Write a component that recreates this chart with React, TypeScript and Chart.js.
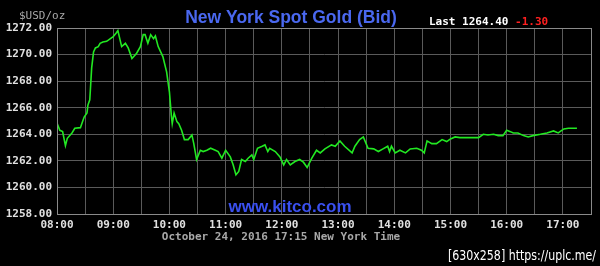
import React, { useEffect, useRef } from "react";
import { Chart, registerables } from "chart.js";

Chart.register(...registerables);

const times: string[] = [
  "08:00","08:03","08:06","08:09","08:11","08:16","08:19","08:25","08:26","08:29",
  "08:32","08:33","08:35","08:37","08:39","08:41","08:44","08:46","08:49","08:53",
  "08:57","09:00","09:03","09:05","09:09","09:13","09:16","09:20","09:25","09:29",
  "09:32","09:34","09:37","09:40","09:43","09:45","09:48","09:53","09:57","10:00",
  "10:02","10:03","10:05","10:08","10:10","10:13","10:16","10:20","10:24","10:26",
  "10:29","10:33","10:36","10:40","10:44","10:49","10:52","10:56","11:00","11:05",
  "11:08","11:11","11:14","11:17","11:21","11:24","11:28","11:30","11:34","11:39",
  "11:42","11:45","11:47","11:53","11:58","12:02","12:05","12:09","12:14","12:19",
  "12:23","12:27","12:32","12:37","12:41","12:46","12:53","12:57","13:02","13:07",
  "13:15","13:18","13:23","13:27","13:32","13:38","13:43","13:48","13:53","13:55",
  "13:57","14:01","14:06","14:12","14:17","14:24","14:29","14:32","14:35","14:40",
  "14:45","14:51","14:56","15:00","15:05","15:10","15:17","15:24","15:30","15:35",
  "15:40","15:46","15:51","15:56","16:00","16:04","16:07","16:12","16:18","16:23",
  "16:28","16:36","16:43","16:50","16:55","17:01","17:06","17:15"
];

const prices: number[] = [
  1264.85,1264.3,1264.2,1263.15,1263.7,1264.1,1264.45,1264.5,1264.7,1265.3,
  1265.6,1266.2,1266.6,1269.0,1270.2,1270.5,1270.6,1270.85,1270.95,1271.0,
  1271.2,1271.35,1271.6,1271.8,1270.6,1270.85,1270.5,1269.7,1270.1,1270.6,
  1271.5,1271.5,1270.85,1271.5,1271.2,1271.4,1270.6,1269.85,1268.7,1267.2,
  1265.45,1264.8,1265.6,1264.95,1264.8,1264.3,1263.6,1263.6,1263.95,1263.3,
  1262.1,1262.8,1262.7,1262.8,1262.95,1262.8,1262.7,1262.2,1262.8,1262.3,
  1261.7,1260.95,1261.2,1262.1,1261.95,1262.2,1262.45,1262.1,1262.95,1263.1,
  1263.2,1262.7,1262.95,1262.7,1262.3,1261.7,1262.1,1261.7,1261.95,1262.1,
  1261.9,1261.5,1262.2,1262.8,1262.6,1262.9,1263.2,1263.1,1263.5,1263.1,
  1262.6,1263.1,1263.6,1263.8,1262.95,1262.9,1262.7,1262.9,1263.1,1262.7,
  1263.1,1262.6,1262.8,1262.6,1262.9,1262.95,1262.8,1262.6,1263.5,1263.3,
  1263.3,1263.6,1263.45,1263.65,1263.8,1263.75,1263.75,1263.75,1263.75,1264.0,
  1263.95,1264.0,1263.9,1263.9,1264.3,1264.2,1264.1,1264.1,1263.9,1263.8,
  1263.9,1264.0,1264.1,1264.25,1264.1,1264.4,1264.45,1264.45
];

const xTickLabels: string[] = [
  "08:00","09:00","10:00","11:00","12:00","13:00","14:00","15:00","16:00","17:00"
];

const yMin = 1258;
const yMax = 1272;
const yStep = 2;
const xStartMin = 8 * 60;
const xEndMin = 17 * 60 + 30;

const titleText = "New York Spot Gold (Bid)";
const unitText = "$USD/oz";
const lastText = "Last 1264.40";
const changeText = "-1.30";
const dateText = "October 24, 2016 17:15 New York Time";
const siteText = "www.kitco.com";
const stampText = "[630x258] https://uplc.me/";

const toMin = (s: string) => {
  const [h, m] = s.split(":").map(Number);
  return h * 60 + m - xStartMin;
};

const textPlugin = {
  id: "kitcoText",
  afterDraw(chart: any) {
    const ctx = chart.ctx;
    const area = chart.chartArea;
    ctx.save();
    ctx.textBaseline = "alphabetic";
    // unit
    ctx.font = "11px 'DejaVu Sans Mono'";
    ctx.fillStyle = "#a8a8a8";
    ctx.textAlign = "left";
    ctx.fillText(unitText, 19, 19);
    // title
    ctx.font = "bold 17.5px 'Liberation Sans'";
    ctx.fillStyle = "#4a68f0";
    ctx.textAlign = "center";
    ctx.fillText(titleText, 291, 23);
    // last
    ctx.font = "bold 11px 'DejaVu Sans Mono'";
    ctx.textAlign = "left";
    ctx.fillStyle = "#ffffff";
    ctx.fillText(lastText, 429, 25);
    const w = ctx.measureText(lastText + " ").width;
    ctx.fillStyle = "#ff2020";
    ctx.fillText(changeText, 429 + w, 25);
    // site
    ctx.font = "bold 17px 'Liberation Sans'";
    ctx.fillStyle = "#3a50f0";
    ctx.textAlign = "center";
    ctx.fillText(siteText, 290, 212);
    // date
    ctx.font = "bold 11px 'DejaVu Sans Mono'";
    ctx.fillStyle = "#a8a8a8";
    ctx.textAlign = "center";
    ctx.fillText(dateText, 281, 240);
    // stamp
    ctx.font = "14px 'DejaVu Sans'";
    ctx.fillStyle = "#ffffff";
    ctx.textAlign = "right";
    ctx.fillText(stampText, 596, 260, 148);
    ctx.restore();
  },
};

export default function App() {
  const ref = useRef<HTMLCanvasElement | null>(null);
  useEffect(() => {
    if (!ref.current) return;
    const data = times.map((t, i) => ({ x: toMin(t), y: prices[i] }));
    const chart = new Chart(ref.current, {
      type: "line",
      data: {
        datasets: [
          {
            data,
            borderColor: "#22e822",
            borderWidth: 1.6,
            pointRadius: 0,
            tension: 0,
            fill: false,
          },
        ],
      },
      options: {
        animation: false,
        responsive: false,
        maintainAspectRatio: false,
        layout: { padding: { left: 0, right: 9, top: 28, bottom: 32 } },
        plugins: { legend: { display: false }, tooltip: { enabled: false } },
        scales: {
          x: {
            type: "linear",
            min: 0,
            max: xEndMin - xStartMin,
            afterFit: (s: any) => {
              s.height = 20;
            },
            afterBuildTicks: (s: any) => {
              const ticks = [];
              for (let v = 0; v <= xEndMin - xStartMin; v += 30) ticks.push({ value: v });
              s.ticks = ticks;
            },
            ticks: {
              autoSkip: false,
              maxRotation: 0,
              padding: 5,
              color: "#e0e0e0",
              font: { family: "'DejaVu Sans Mono'", size: 11, weight: "bold" },
              callback: (v: any) => (Number(v) % 60 === 0 ? xTickLabels[Number(v) / 60] ?? "" : ""),
            },
            grid: { color: "#5a5a5a", lineWidth: 1, drawTicks: false },
            border: { color: "#8a8a8a", width: 1 },
          },
          y: {
            min: yMin,
            max: yMax,
            afterFit: (s: any) => {
              s.width = 57;
            },
            ticks: {
              stepSize: yStep,
              padding: 5,
              color: "#e0e0e0",
              font: { family: "'DejaVu Sans Mono'", size: 11, weight: "bold" },
              callback: (v: any) => Number(v).toFixed(2),
            },
            grid: { color: "#5a5a5a", lineWidth: 1, drawTicks: false },
            border: { color: "#8a8a8a", width: 1 },
          },
        },
      },
      plugins: [
        textPlugin,
        {
          id: "rightBorder",
          afterDraw(chart: any) {
            const { ctx, chartArea } = chart;
            ctx.save();
            ctx.strokeStyle = "#8a8a8a";
            ctx.lineWidth = 1;
            ctx.strokeRect(chartArea.left + 0.5, chartArea.top + 0.5, chartArea.right - chartArea.left, chartArea.bottom - chartArea.top);
            ctx.restore();
          },
        },
      ],
    } as any);
    return () => chart.destroy();
  }, []);
  return (
    <div style={{ position: "fixed", left: 0, top: 0, width: 600, height: 266, background: "#000" }}>
      <canvas ref={ref} width={600} height={266} style={{ display: "block", width: 600, height: 266 }} />
    </div>
  );
}
